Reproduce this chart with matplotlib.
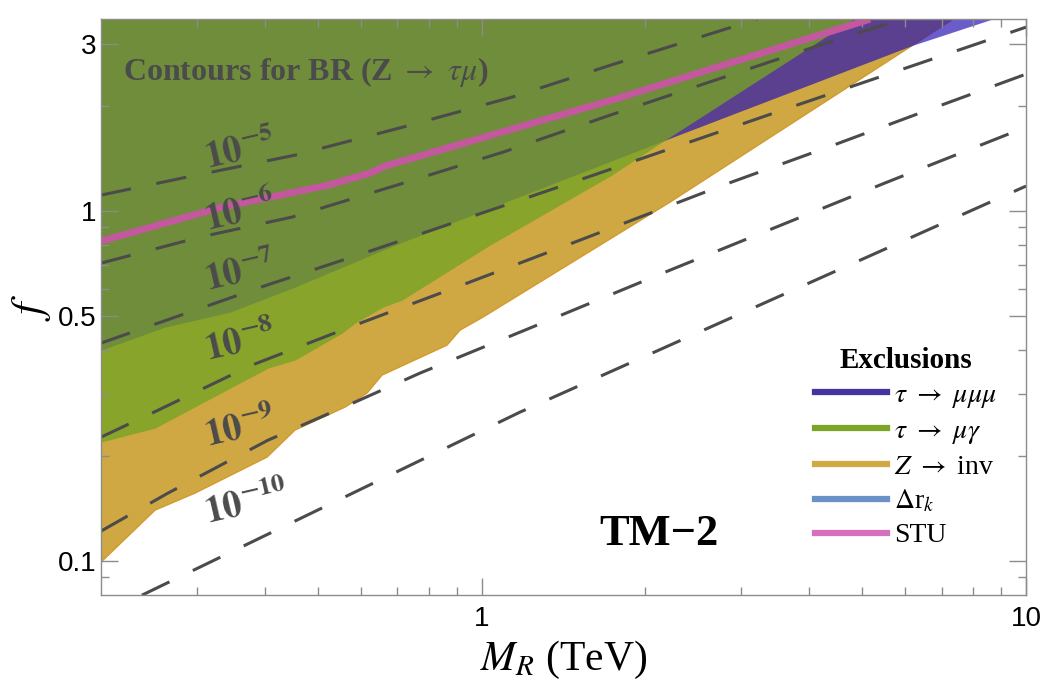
import matplotlib
matplotlib.use("Agg")
import matplotlib.pyplot as plt
from matplotlib.lines import Line2D
from matplotlib.ticker import FixedLocator, FixedFormatter, NullFormatter

plt.rcParams["mathtext.fontset"] = "stix"
plt.rcParams["font.family"] = ["Liberation Serif", "DejaVu Serif"]

# -----------------------------------------------------------------------------
# Exclusion boundaries (M_R in TeV, f); the region above each curve is excluded
# -----------------------------------------------------------------------------
z_inv_m = [0.2, 0.2513, 0.2976, 0.4036, 0.4543, 0.5613, 0.6161, 0.6565,
           0.8641, 0.9129, 1.0062, 2.2191, 7.3451]
z_inv_f = [0.0993, 0.1398, 0.1564, 0.1982, 0.2368, 0.2754, 0.3020, 0.3400,
           0.4141, 0.4571, 0.4980, 1.061, 3.537]

tau3mu_m = [0.2, 0.2622, 0.3451, 0.4543, 0.6934, 2.1727, 6.2003, 8.6637]
tau3mu_f = [0.4008, 0.4662, 0.5145, 0.6067, 0.7996, 1.5955, 2.981, 3.537]

taumugam_m = [0.2, 0.2513, 0.4054, 0.4543, 0.5543, 0.5856, 0.6592, 0.7143,
              1.0363, 1.7219, 2.1727, 4.8128]
taumugam_f = [0.2188, 0.2399, 0.3560, 0.3752, 0.4481, 0.4786, 0.5318, 0.5568,
              0.7996, 1.2589, 1.5955, 3.537]

stu_m = [0.2, 0.3337, 0.5224, 0.6240, 0.6648, 1.7588, 5.1712]
stu_f = [0.8209, 1.0266, 1.186, 1.284, 1.345, 2.089, 3.537]

# -----------------------------------------------------------------------------
# BR(Z -> tau mu) contours
# -----------------------------------------------------------------------------
br5_m = [0.2, 0.2877, 0.4543, 0.7173, 1.1376, 1.7735, 2.7657, 3.2063]
br5_f = [1.111, 1.251, 1.445, 1.738, 2.117, 2.648, 3.289, 3.537]
br6_m = [0.2, 0.3040, 0.4485, 0.7082, 1.0950, 1.7219, 2.6853, 4.1845, 5.9184]
br6_f = [0.7101, 0.8428, 0.9613, 1.194, 1.474, 1.880, 2.367, 2.981, 3.537]
br7_m = [0.2, 0.4036, 0.6319, 1.5488, 3.7970, 10.0]
br7_f = [0.4197, 0.6147, 0.7738, 1.243, 2.009, 3.355]
br8_m = [0.2, 0.2481, 0.3788, 0.5856, 0.9206, 1.4355, 2.7772, 4.3285, 6.7516, 10.0]
br8_f = [0.2260, 0.2647, 0.3631, 0.4723, 0.6147, 0.7996, 1.186, 1.523, 1.969, 2.463]
br9_m = [0.2, 0.2655, 0.4054, 0.5856, 0.7709, 1.2017, 2.2191, 5.5567, 10.0]
br9_f = [0.1218, 0.1564, 0.2216, 0.2846, 0.3445, 0.4571, 0.6782, 1.210, 1.738]
br10_m = [0.2378, 1.1768, 10.0]
br10_f = [0.0799, 0.2665, 1.179]

label_exps = ["-5", "-6", "-7", "-8", "-9", "-10"]
label_m = [0.36, 0.36, 0.36, 0.36, 0.36, 0.371]
label_f = [1.494, 0.9934, 0.6693, 0.4224, 0.2399, 0.1464]

legend_labels = [r"$\tau\ \rightarrow\ \mu\mu\mu$", r"$\tau\ \rightarrow\ \mu\gamma$",
                 r"$Z\ \rightarrow$ inv", r"$\Delta$r$_k$", "STU"]
legend_colors = ["#4433a0", "#7aa528", "#d0a844", "#6a92c8", "#d86ebe"]

x_major = [1, 10]
x_minor = [0.3, 0.4, 0.5, 0.6, 0.7, 0.8, 0.9, 2, 3, 4, 5, 6, 7, 8, 9]
y_major = [0.1, 0.5, 1, 3]
y_minor = [0.09, 0.2, 0.3, 0.4, 0.6, 0.7, 0.8, 0.9, 2]

GRAY = "#4b4b4b"


def draw(ax):
    top = 10.0  # fills run past the upper frame and get clipped

    # Z -> inv (opaque), tau -> mu mu mu and tau -> mu gamma laid over it
    ax.fill_between(z_inv_m, z_inv_f, top, color="#cfa843", lw=0, zorder=1)
    ax.plot(z_inv_m, z_inv_f, color="#d39a2c", lw=1.0, zorder=1.1)
    ax.fill_between(tau3mu_m, tau3mu_f, top, color="#250fb4", alpha=0.68,
                    lw=0, zorder=1.2)
    ax.fill_between(taumugam_m, taumugam_f, top, color="#75a423", alpha=0.78,
                    lw=0, zorder=1.3)

    dash = (0, (10, 8.5))
    for m, f in [(br5_m, br5_f), (br6_m, br6_f), (br7_m, br7_f),
                 (br8_m, br8_f), (br9_m, br9_f), (br10_m, br10_f)]:
        ax.plot(m, f, color=GRAY, lw=2.2, ls=dash, zorder=2)

    ax.plot(stu_m, stu_f, color="#c4589e", lw=5, solid_capstyle="butt", zorder=2.2)

    for e, m, f in zip(label_exps, label_m, label_f):
        ax.text(m, f, r"$\mathbf{10^{%s}}$" % e, color=GRAY, fontsize=27,
                rotation=13, ha="center", va="center", rotation_mode="anchor",
                zorder=3)

    ax.text(0.2216, 0.908, r"Contours for BR (Z $\rightarrow$ $\tau\mu$)",
            transform=ax.transAxes, ha="center", va="center", fontsize=23,
            fontweight="bold", color=GRAY)
    ax.text(0.603, 0.106, "TM\u22122", transform=ax.transAxes, ha="center",
            va="center", fontsize=32, fontweight="bold", color="black")

    handles = [Line2D([], [], color=c, lw=4.5) for c in legend_colors]
    leg = ax.legend(handles, legend_labels, title="Exclusions", loc="upper left",
                    bbox_to_anchor=(0.772, 0.43), frameon=False, fontsize=20,
                    title_fontproperties={"weight": "bold", "size": 21},
                    handlelength=2.6, handletextpad=0.25, labelspacing=0.3,
                    borderpad=0, borderaxespad=0)
    leg.set_zorder(5)


def style(ax):
    ax.set_xscale("log")
    ax.set_yscale("log")
    ax.set_xlim(0.2, 10)
    ax.set_ylim(0.08, 3.54)

    ax.xaxis.set_major_locator(FixedLocator(x_major))
    ax.xaxis.set_major_formatter(FixedFormatter([str(v) for v in x_major]))
    ax.xaxis.set_minor_locator(FixedLocator(x_minor))
    ax.xaxis.set_minor_formatter(NullFormatter())
    ax.yaxis.set_major_locator(FixedLocator(y_major))
    ax.yaxis.set_major_formatter(FixedFormatter([str(v) for v in y_major]))
    ax.yaxis.set_minor_locator(FixedLocator(y_minor))
    ax.yaxis.set_minor_formatter(NullFormatter())

    ax.tick_params(which="both", direction="in", top=True, right=True,
                   color="#8c8c8c", width=1)
    ax.tick_params(which="major", length=12, labelsize=20)
    ax.tick_params(which="minor", length=6)
    ax.tick_params(axis="x", pad=8)
    ax.tick_params(axis="y", pad=3)
    for lab in ax.get_xticklabels() + ax.get_yticklabels():
        lab.set_family(["Liberation Sans", "DejaVu Sans"])
    for sp in ax.spines.values():
        sp.set_color("#8c8c8c")
        sp.set_linewidth(1)

    ax.set_xlabel(r"$M_R$ (TeV)", fontsize=30, labelpad=5)
    ax.set_ylabel(r"$f$", fontsize=32, labelpad=4)


fig = plt.figure(figsize=(10.5, 6.9), dpi=100)
ax = fig.add_axes([0.0962, 0.1377, 0.881, 0.8348])
draw(ax)
style(ax)
fig.savefig("out.png", dpi=100)
